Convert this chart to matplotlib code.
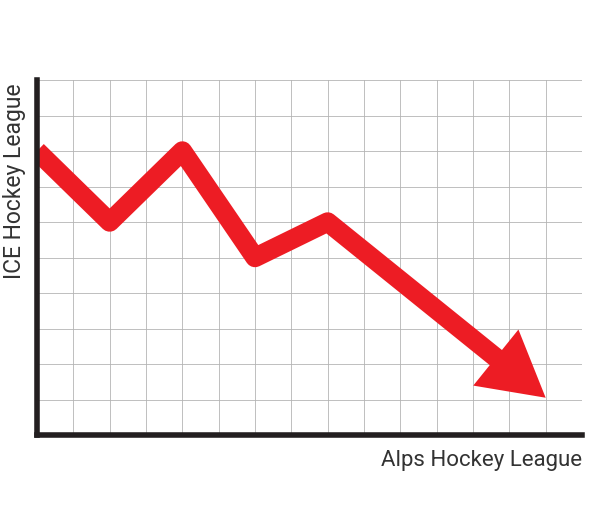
import matplotlib.pyplot as plt
import numpy as np
from matplotlib.patches import Polygon

# data (grid units)
x_vals = [0, 2, 4, 6, 8, 14]
y_vals = [8, 6, 8, 5, 6, 1.05]
x_ticks = list(range(0, 16))
y_ticks = list(range(0, 11))
x_label = 'Alps Hockey League'
y_label = 'ICE Hockey League'

red = '#ed1c24'
dark = '#231f20'

fig = plt.figure(figsize=(6.12, 5.2), dpi=100)
ax = fig.add_axes([37 / 612, 85 / 520, 545 / 612, 355 / 520])
ax.set_xlim(x_ticks[0], x_ticks[-1])
ax.set_ylim(y_ticks[0], y_ticks[-1])
ax.set_xticks(x_ticks)
ax.set_yticks(y_ticks)
ax.tick_params(length=0, labelbottom=False, labelleft=False)
ax.grid(True, color='#b4b4b4', linewidth=0.6)
ax.set_axisbelow(True)

for s in ['top', 'right']:
    ax.spines[s].set_visible(False)
for s in ['left', 'bottom']:
    ax.spines[s].set_color(dark)
    ax.spines[s].set_linewidth(4)
    ax.spines[s].set_zorder(5)

# arrow head computed in pixel space from the last segment
fig.canvas.draw()
T = ax.transData
tip = T.transform((x_vals[-1], y_vals[-1]))
prev = T.transform((x_vals[-2], y_vals[-2]))
u = (tip - prev) / np.hypot(*(tip - prev))
n = np.array([-u[1], u[0]])
head_len, half_w = 64, 36
base = tip - u * head_len
corners = np.array([base + n * half_w, tip, base - n * half_w])
corners_data = T.inverted().transform(corners)
base_data = T.inverted().transform(base + u * 4)

xs = x_vals[:-1] + [base_data[0]]
ys = y_vals[:-1] + [base_data[1]]
ax.plot(xs, ys, color=red, linewidth=14, solid_joinstyle='round',
        solid_capstyle='butt', zorder=3)
ax.add_patch(Polygon(corners_data, closed=True, color=red, zorder=3, lw=0))

ax.set_xlabel(x_label, loc='right', fontsize=16, family='Roboto',
              color='#333333', labelpad=11)
ax.set_ylabel(y_label, loc='top', fontsize=16.5, family='Roboto',
              color='#333333')
ax.yaxis.set_label_coords(-0.02, 0.99)

fig.savefig('out.png', dpi=100)
